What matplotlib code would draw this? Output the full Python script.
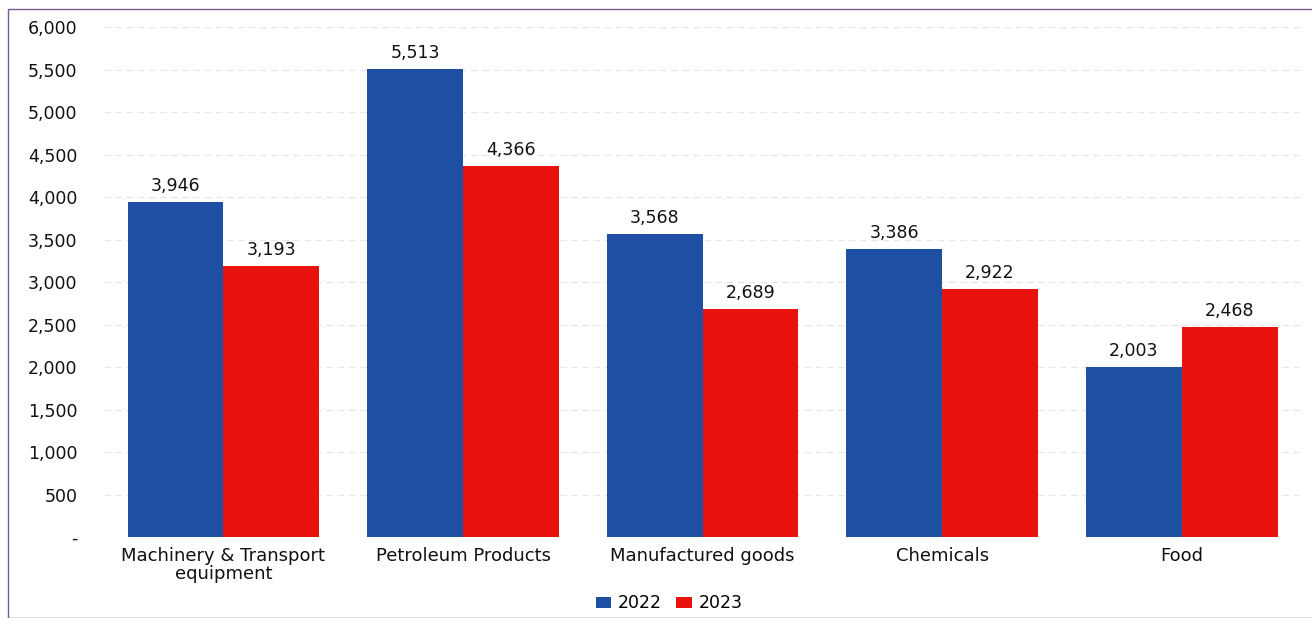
import numpy as np
import matplotlib.pyplot as plt
from matplotlib.patches import Rectangle

categories = ["Machinery & Transport\nequipment", "Petroleum Products",
              "Manufactured goods", "Chemicals", "Food"]
years = ["2022", "2023"]
values_2022 = [3946, 5513, 3568, 3386, 2003]
values_2023 = [3193, 4366, 2689, 2922, 2468]
yticks = [0, 500, 1000, 1500, 2000, 2500, 3000, 3500, 4000, 4500, 5000, 5500, 6000]

plt.rcParams['font.family'] = ['DejaVu Sans']

blue = '#1d4fa3'
red = '#e8120f'
txt = '#111111'

fig = plt.figure(figsize=(13.12, 6.18), dpi=100)
ax = fig.add_axes([0.079, 0.131, 0.913, 0.825])

x = np.arange(len(categories))
w = 0.4
b1 = ax.bar(x - w / 2, values_2022, w, color=blue, label=years[0], zorder=2)
b2 = ax.bar(x + w / 2, values_2023, w, color=red, label=years[1], zorder=2)

for bars in (b1, b2):
    for rect in bars:
        h = rect.get_height()
        ax.annotate(f"{h:,.0f}", (rect.get_x() + rect.get_width() / 2, h),
                    xytext=(0, 5), textcoords='offset points',
                    ha='center', va='bottom', fontsize=12.5, color=txt)

ax.set_ylim(0, 6000)
ax.set_xlim(-0.5, len(categories) - 0.5)
ax.set_yticks(yticks)
ax.set_yticklabels(["-" if t == 0 else f"{t:,}" for t in yticks])
ax.set_xticks(x)
ax.set_xticklabels(categories, linespacing=1.0, fontsize=13)
ax.tick_params(axis='y', length=0, labelsize=12.5, labelcolor=txt, pad=19)
ax.tick_params(axis='x', length=0, labelcolor=txt, pad=7)
for s in ax.spines.values():
    s.set_visible(False)
ax.yaxis.grid(True, color='#e6e6e6', linestyle=(0, (6, 4)), linewidth=0.8, zorder=0)

fig.legend(handles=[b1, b2], labels=years, loc='center', bbox_to_anchor=(0.51, 0.024),
           ncol=2, frameon=False, fontsize=12.5, handlelength=0.9, handleheight=0.6,
           columnspacing=0.8, handletextpad=0.4)

# thin frame around the chart
fig.patches.append(Rectangle((8 / 1312, 0.0), 1.0, 1 - 9 / 618, transform=fig.transFigure,
                             fill=False, edgecolor='#7a5a8a', linewidth=1.0))

fig.savefig("out.png", dpi=100)
